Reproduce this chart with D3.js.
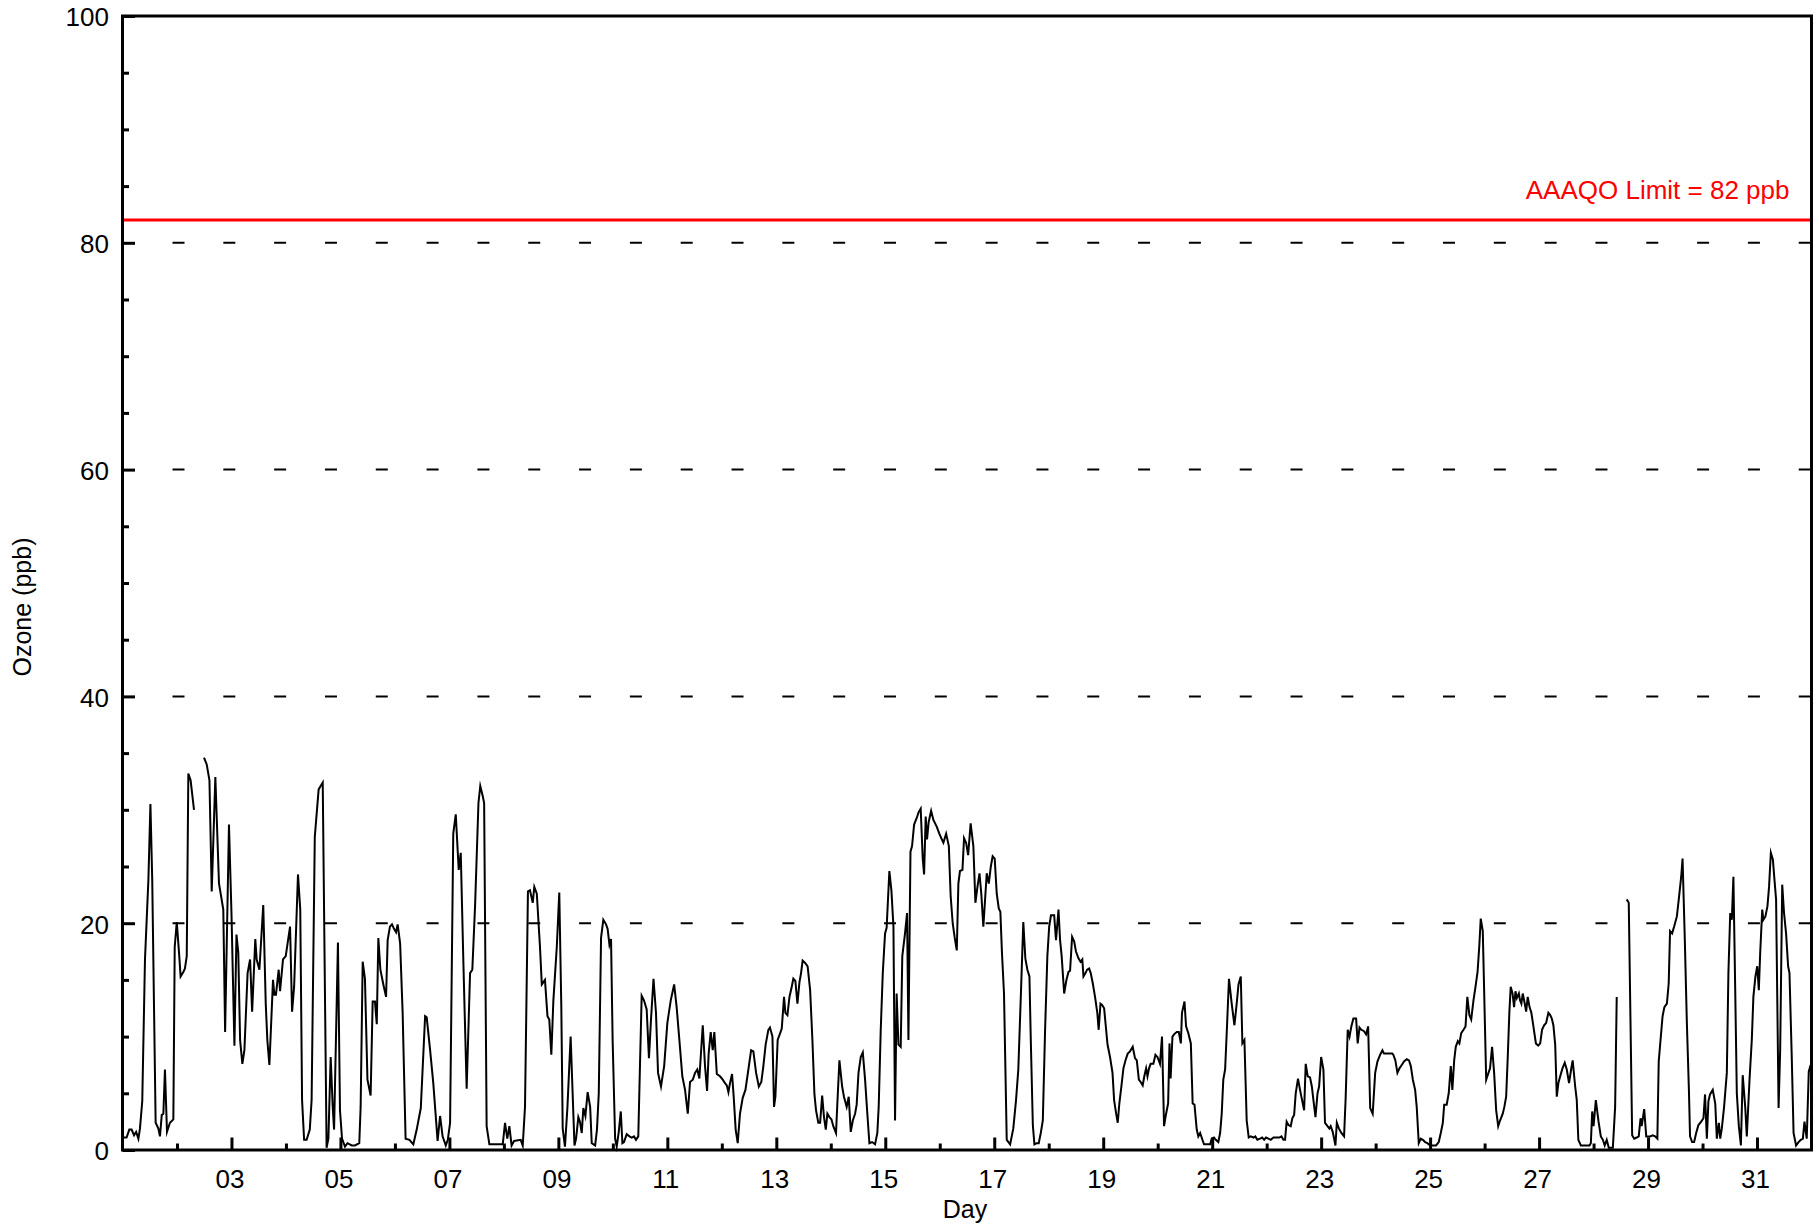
<!DOCTYPE html>
<html>
<head>
<meta charset="utf-8">
<script src="https://cdn.jsdelivr.net/npm/d3@7"></script>
<style>
  body { margin: 0; background: #ffffff; }
  svg { display: block; }
  text { font-family: "Liberation Sans", Arial, Helvetica, sans-serif; }
</style>
</head>
<body>
<svg id="chart" width="1819" height="1228"></svg>
<script>
// ---- data: hours since 01 00:00, hourly ozone (ppb); null = missing ----
const hours = [
0.1,1.8,3.0,4.0,5.1,6.0,7.0,7.7,8.7,9.9,
11.4,12.3,13.1,14.6,15.8,16.5,17.3,18.0,18.7,19.6,
20.9,22.4,23.0,23.9,24.9,25.6,26.8,27.5,28.3,29.0,
30.0,31.5,33.5,35.9,37.1,38.3,39.3,40.9,42.5,44.4,
45.2,46.9,48.0,49.3,50.2,51.0,51.8,52.8,53.7,55.1,
56.2,57.1,58.5,59.1,60.3,62.0,63.1,63.8,64.7,66.3,
66.9,67.6,68.8,69.4,70.7,71.9,73.8,74.7,75.6,77.3,
78.3,79.1,80.0,81.1,82.5,83.3,84.7,86.4,88.2,89.9,
90.7,91.7,92.6,93.2,94.9,95.8,96.7,98.0,99.1,101.0,
102.4,104.3,104.9,105.8,106.8,107.9,109.3,110.2,111.2,112.0,
112.7,113.6,114.9,116.1,116.8,117.8,118.7,119.6,120.5,121.2,
122.3,123.4,124.7,126.4,128.1,129.6,131.4,133.3,134.0,135.5,
136.9,138.8,139.9,141.0,142.4,143.3,144.3,145.7,146.8,148.1,
149.0,150.2,151.6,153.1,154.1,155.3,156.8,157.6,158.7,159.3,
160.4,161.6,167.5,168.5,169.5,170.4,171.4,172.5,175.4,176.3,
177.3,178.6,179.5,180.7,181.4,182.5,183.9,184.7,186.1,187.2,
188.0,188.9,189.8,191.3,192.4,193.3,193.9,194.9,196.0,197.4,
198.6,199.1,199.8,200.8,201.5,202.3,203.0,203.9,204.9,206.0,
206.7,208.2,209.0,209.8,210.8,211.8,213.0,213.7,214.5,215.2,
215.9,217.0,217.7,218.6,219.5,220.2,220.9,222.1,223.3,224.3,
225.3,226.2,227.2,228.0,228.7,229.7,230.9,231.9,232.8,233.9,
235.0,235.9,237.2,238.6,240.0,241.5,243.0,244.1,245.3,246.6,
247.8,249.0,250.0,251.2,252.2,253.2,254.1,255.6,256.6,257.5,
258.2,259.1,260.0,260.7,261.8,263.2,264.4,265.4,266.2,266.9,
267.6,268.5,269.2,270.1,271.0,272.0,273.2,274.4,275.7,276.9,
277.9,279.1,280.3,281.4,282.3,283.3,284.5,285.2,286.3,287.0,
287.6,288.6,289.7,290.4,291.4,292.0,292.9,293.8,294.8,295.5,
296.4,297.3,298.2,298.9,299.6,300.7,301.8,302.9,303.9,304.8,
305.5,306.5,307.3,308.2,309.0,309.8,310.5,311.4,312.3,313.1,
314.3,315.1,315.8,317.0,317.8,319.0,319.9,320.8,321.7,322.7,
323.4,324.2,325.2,326.1,327.1,328.1,329.0,330.2,331.5,332.5,
333.1,334.0,334.9,335.9,336.6,337.8,338.7,339.6,340.3,341.0,
341.8,342.8,343.5,344.7,345.6,346.2,347.1,347.8,348.7,349.9,
350.7,351.6,352.5,353.1,353.8,354.4,355.1,356.2,357.2,358.7,
359.8,360.9,361.6,362.8,364.0,364.8,365.7,366.6,367.5,368.2,
368.9,370.0,370.7,371.6,372.5,373.6,374.8,375.7,376.6,377.5,
378.3,379.2,380.7,381.6,382.5,383.3,384.2,385.1,386.0,386.7,
387.4,388.3,389.5,391.0,392.4,393.6,394.6,395.7,396.8,397.7,
398.6,399.5,400.1,401.0,401.7,402.7,403.6,404.5,405.4,406.4,
407.4,408.2,409.0,410.4,411.2,412.3,413.0,413.7,414.8,415.8,
416.7,417.4,418.3,419.2,420.0,421.1,422.0,422.8,423.3,424.2,
424.9,425.8,426.5,427.4,428.4,429.4,430.0,430.8,431.5,432.4,
433.1,433.9,435.0,436.1,436.8,437.7,438.4,439.1,440.0,440.9,
441.8,442.8,443.8,445.0,446.0,446.8,447.7,448.5,449.4,450.1,
450.9,451.5,452.2,452.9,454.1,455.0,455.9,457.0,457.9,458.8,
459.7,460.6,461.2,461.7,462.5,463.2,464.4,465.3,466.2,466.7,
467.8,468.5,469.5,470.6,471.4,472.2,473.2,473.9,474.7,475.7,
476.4,479.1,479.8,480.8,481.6,482.7,483.5,484.2,484.9,485.7,
486.4,487.4,488.6,489.8,490.8,491.6,492.6,493.3,494.2,495.2,
496.1,497.0,498.2,499.0,499.9,501.1,502.0,502.9,503.7,504.8,
505.8,507.0,509.6,510.5,511.4,512.1,512.8,513.6,514.6,515.3,
516.1,516.8,517.8,518.7,519.6,520.5,521.2,522.1,523.1,523.9,
524.6,525.5,526.4,527.1,528.0,529.0,529.7,530.8,531.6,532.2,
533.1,534.3,534.9,535.8,536.9,538.1,538.8,539.7,540.5,541.3,
542.2,543.4,544.1,544.9,545.7,546.8,547.8,548.7,549.6,550.7,
551.8,552.8,554.0,555.0,555.7,556.9,558.4,559.3,559.8,560.7,
561.6,562.5,563.5,564.5,565.7,566.7,567.5,568.4,569.4,570.1,
571.0,571.9,572.8,573.8,574.8,576.0,578.6,579.8,580.7,581.6,
582.2,583.3,584.2,585.1,585.8,586.6,587.3,588.2,588.9,589.7,
590.7,591.6,592.4,593.3,594.1,595.1,596.0,596.9,597.7,598.3,
599.2,600.7,601.7,602.4,603.3,604.2,605.1,606.0,606.8,608.0,
608.7,609.5,610.2,610.9,611.5,612.3,613.0,613.6,614.2,615.1,
615.6,616.2,616.8,617.7,618.3,619.0,619.8,620.6,621.5,622.6,
623.6,624.5,625.3,626.2,627.1,628.1,628.9,629.6,630.3,631.1,
631.8,632.5,633.3,634.3,635.3,636.2,637.2,638.1,638.8,639.9,
640.6,641.3,642.4,646.2,646.8,647.4,648.0,649.0,650.2,651.2,
652.1,652.9,653.8,654.7,656.5,657.5,658.2,660.5,662.6,663.5,
665.0,665.9,667.0,667.9,668.7,669.2,670.3,671.2,672.0,672.9,
674.1,675.1,676.1,676.7,677.5,678.4,679.2,680.3,681.1,681.7,
682.6,683.5,684.7,685.7,686.6,687.2,688.2,689.1,690.0,690.5,
691.4,692.3,693.2,694.2,695.4,696.4,697.1,697.9,698.6,699.3,
700.5,701.6,702.3,703.2,703.8,704.5,705.5,706.7,707.4,708.2,
708.9,709.6,710.4,711.1,712.0,712.9,713.7,714.8,715.5,716.7,
717.7,718.4,719.3,720.1,720.8,721.4,722.3,722.8,723.7,724.6,
725.3,726.1,727.0,727.7,728.4,729.5,730.2,731.1,731.9,732.8,
733.7,734.3,735.3,736.1,737.2,738.3,739.3,740.2,740.9,741.9,
742.8,743.6
];
const ozone = [
1.1,1.1,1.8,1.8,1.3,1.6,1.0,1.9,4.3,16.8,
23.8,30.5,23.8,2.4,1.9,1.2,3.1,3.2,7.1,1.6,
2.4,2.7,17.9,20.1,17.4,15.3,15.7,16.0,17.1,33.2,
32.6,30.0,null,34.6,34.0,32.6,22.8,32.9,23.5,21.2,
10.4,28.7,20.9,9.2,19.0,17.4,9.7,7.6,8.8,15.6,
16.8,12.2,18.6,16.8,15.9,21.6,12.9,9.7,7.5,15.0,
13.7,13.7,15.9,14.0,16.8,17.1,19.7,12.2,14.4,24.3,
21.2,4.4,0.9,0.9,1.8,4.4,27.6,31.8,32.4,0.2,
1.0,8.2,3.8,1.8,18.3,3.5,1.0,0.3,0.6,0.4,
0.4,0.6,3.8,16.6,15.1,6.2,4.8,13.1,13.1,11.1,
18.7,15.9,14.6,13.5,18.5,19.7,19.9,19.5,19.2,19.9,
18.2,12.1,1.0,0.9,0.5,1.8,3.7,11.8,11.7,8.8,
5.9,0.8,3.0,1.2,0.4,0.9,2.4,27.9,29.6,24.7,
26.2,16.2,5.4,15.6,15.9,21.5,30.6,32.1,31.2,30.6,
2.1,0.5,0.5,2.4,1.0,2.1,0.4,0.8,0.9,0.4,
3.8,22.8,22.9,21.8,23.2,22.6,17.9,14.6,15.0,11.8,
11.5,8.4,13.2,17.9,22.7,12.6,1.9,0.3,3.8,10.0,
3.2,0.4,1.0,2.9,2.5,1.5,3.7,3.0,5.1,3.8,
0.6,0.4,1.8,5.0,18.7,20.3,19.9,19.5,18.1,18.6,
9.7,1.0,0.3,1.6,3.4,0.6,0.7,1.4,1.2,1.1,
1.2,0.9,1.2,7.9,13.6,13.2,12.4,8.1,11.5,15.1,
12.1,6.8,5.6,7.4,11.2,13.2,14.6,12.6,9.7,6.5,
5.3,3.2,6.0,6.2,6.8,7.1,6.3,11.0,7.4,5.2,
8.5,10.4,8.8,10.4,6.7,6.5,6.2,5.9,5.7,5.1,
5.9,6.7,4.8,1.8,0.6,3.2,4.6,5.3,7.1,8.8,
8.7,6.8,5.6,6.0,7.4,9.3,10.6,10.8,10.0,3.8,
4.7,9.7,10.3,10.7,13.5,12.1,11.9,13.5,14.4,15.1,
14.9,12.9,14.8,15.6,16.7,16.5,16.2,14.1,9.7,4.9,
3.5,2.4,2.4,4.8,2.9,1.8,3.2,2.9,2.7,2.1,
1.5,5.0,7.9,5.6,4.7,3.8,4.7,1.6,2.6,3.2,
4.0,6.8,8.2,8.6,6.2,3.2,0.6,0.7,0.5,1.5,
3.8,10.6,15.6,19.1,19.6,24.6,22.9,19.7,2.6,13.8,
9.3,9.1,17.1,19.1,20.9,9.7,26.3,26.8,28.7,29.3,
29.8,30.1,25.7,24.3,29.4,27.4,28.9,29.9,29.1,28.5,
27.9,27.4,27.1,27.9,26.8,22.4,20.0,18.7,17.6,23.5,
24.6,24.7,27.5,27.1,26.0,28.8,26.8,21.8,23.2,24.4,
22.6,19.7,24.4,23.5,25.0,25.9,25.7,22.6,21.3,21.0,
17.4,13.8,0.9,0.5,1.9,4.4,7.1,13.5,20.1,16.9,
15.9,15.3,9.7,2.2,0.5,0.6,0.6,1.5,2.6,10.6,
17.1,19.7,20.7,20.7,18.5,21.2,18.5,17.1,13.8,15.0,
15.7,15.8,18.8,18.4,17.5,16.9,16.6,16.8,15.3,15.6,
15.9,16.0,15.6,14.7,13.5,12.1,10.6,12.9,12.8,12.5,
11.0,9.3,8.2,6.8,4.4,3.2,2.4,4.1,5.6,7.2,
7.9,8.5,8.7,9.1,8.1,7.9,6.2,6.0,5.7,6.5,
7.2,6.5,7.2,7.6,7.6,8.4,8.2,7.6,10.0,2.1,
3.2,4.1,9.4,6.3,10.0,10.2,10.4,10.4,9.4,12.1,
13.1,10.9,10.3,9.4,4.1,4.0,1.8,1.2,1.5,0.9,
0.5,0.5,1.0,1.1,0.9,0.7,1.5,3.2,6.2,7.1,
10.3,15.1,12.9,11.0,12.9,14.6,15.3,9.4,9.7,2.6,
1.1,1.2,1.1,1.2,0.9,1.0,1.1,0.9,1.1,1.0,
0.9,1.1,1.1,1.2,0.9,0.9,2.5,2.2,2.1,2.8,
3.1,5.0,6.3,5.3,4.4,3.5,7.6,6.5,6.4,5.6,
4.4,2.9,5.0,5.6,8.2,7.1,2.4,2.1,1.9,2.1,
1.6,0.4,2.4,1.9,1.5,1.2,4.6,10.6,10.0,10.9,
11.6,11.6,9.4,10.8,10.6,10.5,10.2,10.9,3.7,3.2,
6.8,7.8,8.4,8.8,8.5,8.5,8.5,8.5,8.4,7.9,
6.8,7.2,7.5,7.8,8.0,7.9,7.4,6.2,5.3,3.8,
0.6,1.0,0.9,0.7,0.6,0.4,0.4,0.7,1.5,2.4,
4.0,4.0,5.0,7.4,5.3,7.9,9.1,9.6,9.4,10.3,
10.6,10.9,13.5,11.9,11.5,13.2,14.4,15.7,18.1,20.4,
19.3,6.2,6.8,7.2,9.1,6.8,3.5,2.1,2.6,3.2,
3.8,4.7,8.2,12.1,14.4,13.8,12.6,14.0,13.4,13.8,
13.2,12.9,13.8,12.9,12.2,13.5,12.6,12.1,10.9,9.4,
9.2,9.4,10.6,11.0,11.2,12.1,11.9,11.6,11.0,9.3,
4.7,5.9,6.5,7.2,7.7,7.1,5.9,7.1,7.9,5.6,
4.4,0.9,0.4,0.4,0.6,3.4,2.1,4.4,2.5,1.2,
0.9,0.4,0.9,0.2,0.2,3.8,13.5,null,22.1,21.8,
1.3,1.0,1.1,1.2,2.8,2.1,3.6,1.2,1.2,1.2,
1.3,1.2,1.0,7.8,9.7,11.8,12.6,12.9,14.7,19.3,
19.1,19.7,20.6,22.4,24.1,25.7,18.5,11.2,5.3,1.2,
0.7,0.7,1.5,2.2,2.5,2.8,4.9,1.0,4.3,4.9,
5.3,4.1,1.0,2.4,1.0,1.9,3.8,6.8,15.6,20.9,
20.3,24.1,14.1,5.0,2.1,0.4,6.6,3.8,1.2,6.2,
9.7,13.5,15.3,16.2,14.1,17.4,21.2,20.3,20.6,21.5,
23.2,26.2,25.6,23.8,22.1,3.7,8.8,23.4,20.9,19.1,
16.2,15.6,8.2,1.5,0.4,0.7,0.9,1.0,2.5,1.0,
6.9,7.5
];

// axis ticks and labels
const majorDays = [3,5,7,9,11,13,15,17,19,21,23,25,27,29,31];
const dayLabels = ["03","05","07","09","11","13","15","17","19","21","23","25","27","29","31"];
const minorDays = [2,4,6,8,10,12,14,16,18,20,22,24,26,28,30];
const yMajor = [0,20,40,60,80,100];
const yLabels = ["0","20","40","60","80","100"];
const yMinor = [5,10,15,25,30,35,45,50,55,65,70,75,85,90,95];
const gridValues = [20,40,60,80];
const limitValue = [82];
const limitLabel = ["AAAQO Limit = 82 ppb"];
const xTitle = "Day";
const yTitle = "Ozone (ppb)";

// ---- drawing ----
const svg = d3.select("#chart");
const M = { left: 122.5, right: 1811.5, top: 16, bottom: 1150 };
const FONT = '"Liberation Sans", Arial, Helvetica, sans-serif';

const x = d3.scaleLinear().domain([0, 744]).range([M.left, M.right]);
const y = d3.scaleLinear().domain([0, 100]).range([M.bottom, M.top]);
const dayToHour = d => (d - 1) * 24;

svg.append("rect").attr("width", 1819).attr("height", 1228).attr("fill", "#fff");

// dashed grid
svg.append("g").selectAll("line").data(gridValues).join("line")
  .attr("x1", M.left + 50).attr("x2", M.right)
  .attr("y1", d => y(d)).attr("y2", d => y(d))
  .attr("stroke", "#000").attr("stroke-width", 2)
  .attr("stroke-dasharray", "12 38.82");

// limit line
svg.append("g").selectAll("line").data(limitValue).join("line")
  .attr("x1", M.left).attr("x2", M.right)
  .attr("y1", d => y(d)).attr("y2", d => y(d))
  .attr("stroke", "#ff0000").attr("stroke-width", 3);
svg.append("text").text(limitLabel[0])
  .attr("x", M.right - 22).attr("y", y(limitValue[0]) - 21.5)
  .attr("text-anchor", "end").attr("fill", "#ff0000")
  .attr("font-size", 26).attr("font-family", FONT);

// data line
const n = Math.min(hours.length, ozone.length);
const pts = d3.range(n).map(i => ({ h: hours[i], v: ozone[i] }));
const line = d3.line().defined(d => d.v !== null).x(d => x(d.h)).y(d => y(d.v));
svg.append("path").datum(pts)
  .attr("d", line).attr("fill", "none")
  .attr("stroke", "#000").attr("stroke-width", 2)
  .attr("stroke-linejoin", "miter").attr("stroke-miterlimit", 6);

function styleAxis(g) {
  g.select(".domain").remove();
  g.attr("font-family", FONT).attr("font-size", 26);
  g.selectAll(".tick line").attr("stroke", "#000").attr("stroke-width", 3);
  g.selectAll(".tick text").attr("fill", "#000");
}

// x axis
svg.append("g").attr("transform", `translate(0,${M.bottom})`)
  .call(d3.axisBottom(x).tickValues(majorDays.map(dayToHour))
    .tickFormat((d, i) => dayLabels[i]).tickSizeInner(-12.5).tickSizeOuter(0).tickPadding(19.5))
  .call(styleAxis)
  .call(g => g.selectAll(".tick text").attr("dx", -2));
svg.append("g").attr("transform", `translate(0,${M.bottom})`)
  .call(d3.axisBottom(x).tickValues(minorDays.map(dayToHour))
    .tickFormat("").tickSizeInner(-6.5).tickSizeOuter(0))
  .call(styleAxis);

// y axis
svg.append("g").attr("transform", `translate(${M.left},0)`)
  .call(d3.axisLeft(y).tickValues(yMajor)
    .tickFormat((d, i) => yLabels[i]).tickSizeInner(-12.5).tickSizeOuter(0).tickPadding(13.5))
  .call(styleAxis)
  .call(g => g.selectAll(".tick text").attr("dy", "0.38em"));
svg.append("g").attr("transform", `translate(${M.left},0)`)
  .call(d3.axisLeft(y).tickValues(yMinor)
    .tickFormat("").tickSizeInner(-6.5).tickSizeOuter(0))
  .call(styleAxis);

// frame
svg.append("rect")
  .attr("x", M.left).attr("y", M.top)
  .attr("width", M.right - M.left).attr("height", M.bottom - M.top)
  .attr("fill", "none").attr("stroke", "#000").attr("stroke-width", 3);

// titles
svg.append("text").text(xTitle)
  .attr("x", (M.left + M.right) / 2 - 2).attr("y", 1218)
  .attr("text-anchor", "middle").attr("font-size", 25).attr("font-family", FONT);
svg.append("text").text(yTitle)
  .attr("transform", "translate(31,607) rotate(-90)")
  .attr("text-anchor", "middle").attr("font-size", 25).attr("font-family", FONT);
</script>
</body>
</html>
